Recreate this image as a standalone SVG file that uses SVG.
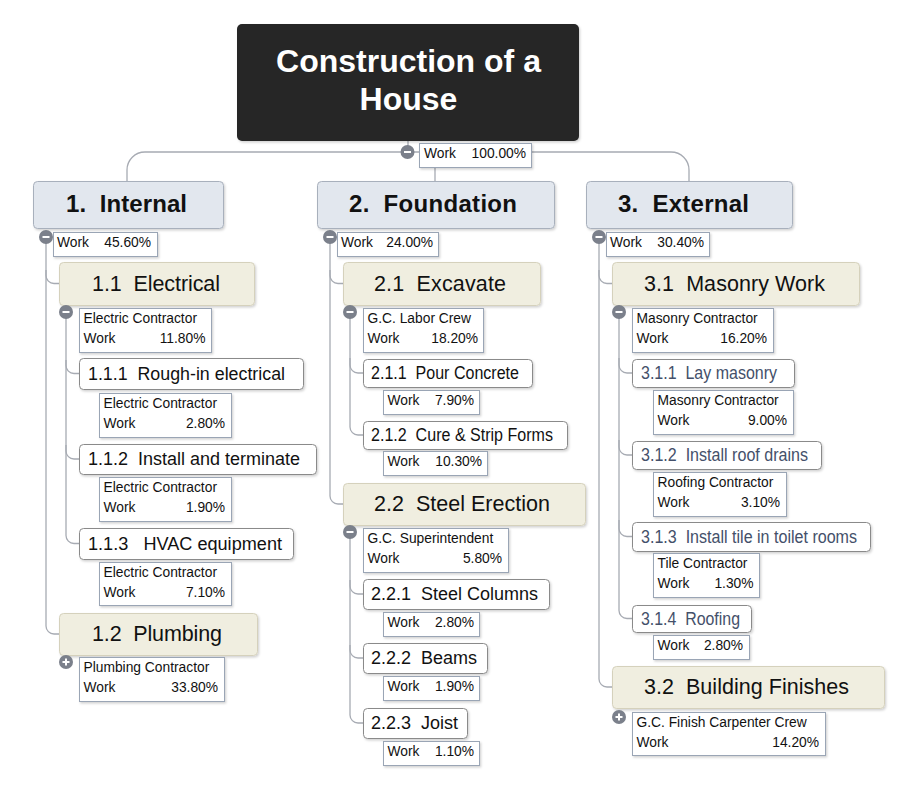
<svg xmlns="http://www.w3.org/2000/svg" width="917" height="791" viewBox="0 0 917 791">
<defs>
<filter id="sh" x="-10%" y="-20%" width="130%" height="160%"><feDropShadow dx="1.2" dy="1.5" stdDeviation="1.3" flood-color="#000" flood-opacity="0.18"/></filter>
<style>
text{font-family:"Liberation Sans",Arial,sans-serif;fill:#111}
.root rect{fill:#262626;filter:url(#sh)}
.root text{font-size:32px;font-weight:bold;fill:#fff;text-anchor:middle}
.l1 rect{fill:#e2e7ee;stroke:#a8b0bc;stroke-width:1;filter:url(#sh)}
.l1 text{font-size:24px;font-weight:bold}
.l2 rect{fill:#f0eee0;stroke:#d5d1bc;stroke-width:1;filter:url(#sh)}
.l2 text{font-size:21.5px}
.l3 rect{fill:#fff;stroke:#8a8a8a;stroke-width:1;filter:url(#sh)}
.l3 text{font-size:17.5px}
.c3 text{fill:#44506a}
.info rect{fill:#fff;stroke:#9aa5b5;stroke-width:1;filter:url(#sh)}
.info text{font-size:13.8px}
.info .v{text-anchor:end}
.conn path{fill:none;stroke:#a7abb3;stroke-width:1.3}
.tg circle{fill:#7b808b}
.tg path{stroke:#fff;stroke-width:2;fill:none}
</style>
</defs>
<rect width="917" height="791" fill="#fff"/>

<g id="connectors" class="conn">
<path d="M408,141 V152"/>
<path d="M127,181 V170 A18,18 0 0 1 145,152 H671 A18,18 0 0 1 689,170 V181"/>
<path d="M435,152 V181"/>
<path d="M46,237 V626 A8,8 0 0 0 54,634 H59"/>
<path d="M46,270 V275.5 A8,8 0 0 0 54,283.5 H59"/>
<path d="M66,312 V535.5 A8,8 0 0 0 74,543.5 H79"/>
<path d="M66,360 V365.5 A8,8 0 0 0 74,373.5 H79"/>
<path d="M66,445 V451 A8,8 0 0 0 74,459 H79"/>
<path d="M330,237 V496 A8,8 0 0 0 338,504 H343"/>
<path d="M330,270 V275.5 A8,8 0 0 0 338,283.5 H343"/>
<path d="M350,312 V427 A8,8 0 0 0 358,435 H363"/>
<path d="M350,358 V365 A8,8 0 0 0 358,373 H363"/>
<path d="M350,532 V715 A8,8 0 0 0 358,723 H363"/>
<path d="M350,580 V586 A8,8 0 0 0 358,594 H363"/>
<path d="M350,645 V650 A8,8 0 0 0 358,658 H363"/>
<path d="M599,237 V679 A8,8 0 0 0 607,687 H612"/>
<path d="M599,270 V275.5 A8,8 0 0 0 607,283.5 H612"/>
<path d="M619,312 V610.5 A8,8 0 0 0 627,618.5 H632"/>
<path d="M619,358 V365 A8,8 0 0 0 627,373 H632"/>
<path d="M619,440 V447 A8,8 0 0 0 627,455 H632"/>
<path d="M619,520 V528.5 A8,8 0 0 0 627,536.5 H632"/>
</g>

<g id="root" class="root">
<rect x="237" y="24" width="342" height="117" rx="5"/>
<text x="408.5" y="71.5">Construction of a</text>
<text x="408.5" y="109.5">House</text>
</g>
<g id="root-work" class="info">
<rect x="419.5" y="143.5" width="112" height="24"/>
<text x="424" y="158">Work</text><text class="v" x="526" y="158">100.00%</text>
</g>
<g id="root-toggle" class="tg"><circle cx="407.5" cy="152" r="7"/><path d="M404,152 H411"/></g>

<g id="n1" class="l1"><rect x="33.5" y="181.5" width="190" height="47" rx="4"/><text x="66" y="212" textLength="121">1.&#160; Internal</text></g>
<g id="n1-work" class="info"><rect x="53.5" y="232.5" width="104" height="24"/><text x="57" y="246.5">Work</text><text class="v" x="151" y="246.5">45.60%</text></g>
<g id="n1-toggle" class="tg"><circle cx="46" cy="237" r="7"/><path d="M42.5,237 H49.5"/></g>

<g id="n2" class="l1"><rect x="317.5" y="181.5" width="237" height="47" rx="4"/><text x="349" y="212" textLength="168">2.&#160; Foundation</text></g>
<g id="n2-work" class="info"><rect x="337.5" y="232.5" width="101" height="24"/><text x="341" y="246.5">Work</text><text class="v" x="433" y="246.5">24.00%</text></g>
<g id="n2-toggle" class="tg"><circle cx="330" cy="237" r="7"/><path d="M326.5,237 H333.5"/></g>

<g id="n3" class="l1"><rect x="586.5" y="181.5" width="206" height="47" rx="4"/><text x="618" y="212" textLength="131">3.&#160; External</text></g>
<g id="n3-work" class="info"><rect x="606.5" y="232.5" width="103" height="24"/><text x="610" y="246.5">Work</text><text class="v" x="704" y="246.5">30.40%</text></g>
<g id="n3-toggle" class="tg"><circle cx="599" cy="237" r="7"/><path d="M595.5,237 H602.5"/></g>

<g id="n11" class="l2"><rect x="59.5" y="262.5" width="195" height="43" rx="4"/><text x="92" y="290.5" textLength="128">1.1&#160; Electrical</text></g>
<g id="n11-info" class="info"><rect x="79.5" y="308.5" width="132" height="44"/><text x="83.5" y="323">Electric Contractor</text><text x="83.5" y="342.5">Work</text><text class="v" x="205.5" y="342.5">11.80%</text></g>
<g id="n11-toggle" class="tg"><circle cx="66" cy="312" r="7"/><path d="M62.5,312 H69.5"/></g>

<g id="n111" class="l3"><rect x="79.5" y="358.5" width="224" height="31" rx="4"/><text x="88" y="380" textLength="197" lengthAdjust="spacingAndGlyphs">1.1.1&#160; Rough-in electrical</text></g>
<g id="n111-info" class="info"><rect x="99.5" y="393.5" width="132" height="44"/><text x="103.5" y="408">Electric Contractor</text><text x="103.5" y="427.5">Work</text><text class="v" x="225" y="427.5">2.80%</text></g>

<g id="n112" class="l3"><rect x="79.5" y="444.5" width="237" height="30" rx="4"/><text x="88" y="465" textLength="212" lengthAdjust="spacingAndGlyphs">1.1.2&#160; Install and terminate</text></g>
<g id="n112-info" class="info"><rect x="99.5" y="477.5" width="132" height="44"/><text x="103.5" y="492">Electric Contractor</text><text x="103.5" y="511.5">Work</text><text class="v" x="225" y="511.5">1.90%</text></g>

<g id="n113" class="l3"><rect x="79.5" y="528.5" width="214" height="31" rx="4"/><text x="88" y="549.5" textLength="194" lengthAdjust="spacingAndGlyphs">1.1.3&#160;&#160; HVAC equipment</text></g>
<g id="n113-info" class="info"><rect x="99.5" y="562.5" width="132" height="43"/><text x="103.5" y="577">Electric Contractor</text><text x="103.5" y="596.5">Work</text><text class="v" x="225" y="596.5">7.10%</text></g>

<g id="n12" class="l2"><rect x="59.5" y="613.5" width="198" height="42" rx="4"/><text x="92" y="640.5" textLength="130">1.2&#160; Plumbing</text></g>
<g id="n12-info" class="info"><rect x="79.5" y="657.5" width="145" height="44"/><text x="83.5" y="672">Plumbing Contractor</text><text x="83.5" y="691.5">Work</text><text class="v" x="218" y="691.5">33.80%</text></g>
<g id="n12-toggle" class="tg"><circle cx="66" cy="662" r="7"/><path d="M62.5,662 H69.5 M66,658.5 V665.5"/></g>

<g id="n21" class="l2"><rect x="343.5" y="262.5" width="197" height="43" rx="4"/><text x="374" y="290.5" textLength="132">2.1&#160; Excavate</text></g>
<g id="n21-info" class="info"><rect x="363.5" y="308.5" width="120" height="44"/><text x="367.5" y="323">G.C. Labor Crew</text><text x="367.5" y="342.5">Work</text><text class="v" x="478" y="342.5">18.20%</text></g>
<g id="n21-toggle" class="tg"><circle cx="350" cy="312" r="7"/><path d="M346.5,312 H353.5"/></g>

<g id="n211" class="l3"><rect x="363.5" y="359.5" width="169" height="28" rx="4"/><text x="371" y="379" textLength="148" lengthAdjust="spacingAndGlyphs">2.1.1&#160; Pour Concrete</text></g>
<g id="n211-info" class="info"><rect x="383.5" y="390.5" width="96" height="24"/><text x="387.5" y="405">Work</text><text class="v" x="474" y="405">7.90%</text></g>

<g id="n212" class="l3"><rect x="363.5" y="421.5" width="204" height="28" rx="4"/><text x="371" y="441" textLength="182" lengthAdjust="spacingAndGlyphs">2.1.2&#160; Cure &amp; Strip Forms</text></g>
<g id="n212-info" class="info"><rect x="383.5" y="451.5" width="104" height="24"/><text x="387.5" y="466">Work</text><text class="v" x="482" y="466">10.30%</text></g>

<g id="n22" class="l2"><rect x="343.5" y="483.5" width="242" height="42" rx="4"/><text x="374" y="510.5" textLength="176">2.2&#160; Steel Erection</text></g>
<g id="n22-info" class="info"><rect x="363.5" y="528.5" width="145" height="44"/><text x="367.5" y="543">G.C. Superintendent</text><text x="367.5" y="562.5">Work</text><text class="v" x="502" y="562.5">5.80%</text></g>
<g id="n22-toggle" class="tg"><circle cx="350" cy="532" r="7"/><path d="M346.5,532 H353.5"/></g>

<g id="n221" class="l3"><rect x="363.5" y="579.5" width="186" height="30" rx="4"/><text x="371" y="599.5" textLength="167" lengthAdjust="spacingAndGlyphs">2.2.1&#160; Steel Columns</text></g>
<g id="n221-info" class="info"><rect x="383.5" y="612.5" width="96" height="24"/><text x="387.5" y="627">Work</text><text class="v" x="474" y="627">2.80%</text></g>

<g id="n222" class="l3"><rect x="363.5" y="643.5" width="124" height="30" rx="4"/><text x="371" y="663.5" textLength="106" lengthAdjust="spacingAndGlyphs">2.2.2&#160; Beams</text></g>
<g id="n222-info" class="info"><rect x="383.5" y="676.5" width="96" height="24"/><text x="387.5" y="691">Work</text><text class="v" x="474" y="691">1.90%</text></g>

<g id="n223" class="l3"><rect x="363.5" y="708.5" width="104" height="30" rx="4"/><text x="371" y="728.5" textLength="87" lengthAdjust="spacingAndGlyphs">2.2.3&#160; Joist</text></g>
<g id="n223-info" class="info"><rect x="383.5" y="741.5" width="96" height="24"/><text x="387.5" y="756">Work</text><text class="v" x="474" y="756">1.10%</text></g>

<g id="n31" class="l2"><rect x="612.5" y="262.5" width="247" height="43" rx="4"/><text x="644" y="290.5" textLength="181">3.1&#160; Masonry Work</text></g>
<g id="n31-info" class="info"><rect x="632.5" y="308.5" width="141" height="44"/><text x="636.5" y="323">Masonry Contractor</text><text x="636.5" y="342.5">Work</text><text class="v" x="767" y="342.5">16.20%</text></g>
<g id="n31-toggle" class="tg"><circle cx="619" cy="312" r="7"/><path d="M615.5,312 H622.5"/></g>

<g id="n311" class="l3 c3"><rect x="632.5" y="359.5" width="162" height="28" rx="4"/><text x="641" y="379" textLength="136" lengthAdjust="spacingAndGlyphs">3.1.1&#160; Lay masonry</text></g>
<g id="n311-info" class="info"><rect x="653.5" y="390.5" width="140" height="44"/><text x="657.5" y="405">Masonry Contractor</text><text x="657.5" y="424.5">Work</text><text class="v" x="787" y="424.5">9.00%</text></g>

<g id="n312" class="l3 c3"><rect x="632.5" y="441.5" width="189" height="28" rx="4"/><text x="641" y="461" textLength="167" lengthAdjust="spacingAndGlyphs">3.1.2&#160; Install roof drains</text></g>
<g id="n312-info" class="info"><rect x="653.5" y="472.5" width="133" height="44"/><text x="657.5" y="487">Roofing Contractor</text><text x="657.5" y="506.5">Work</text><text class="v" x="780" y="506.5">3.10%</text></g>

<g id="n313" class="l3 c3"><rect x="632.5" y="522.5" width="238" height="29" rx="4"/><text x="641" y="542.5" textLength="216" lengthAdjust="spacingAndGlyphs">3.1.3&#160; Install tile in toilet rooms</text></g>
<g id="n313-info" class="info"><rect x="653.5" y="553.5" width="106" height="44"/><text x="657.5" y="568">Tile Contractor</text><text x="657.5" y="587.5">Work</text><text class="v" x="753.5" y="587.5">1.30%</text></g>

<g id="n314" class="l3 c3"><rect x="632.5" y="605.5" width="119" height="27" rx="4"/><text x="641" y="624.5" textLength="99" lengthAdjust="spacingAndGlyphs">3.1.4&#160; Roofing</text></g>
<g id="n314-info" class="info"><rect x="653.5" y="635.5" width="96" height="24"/><text x="657.5" y="650">Work</text><text class="v" x="743" y="650">2.80%</text></g>

<g id="n32" class="l2"><rect x="612.5" y="666.5" width="272" height="42" rx="4"/><text x="644" y="693.5" textLength="205">3.2&#160; Building Finishes</text></g>
<g id="n32-info" class="info"><rect x="632.5" y="712.5" width="193" height="43"/><text x="636.5" y="727">G.C. Finish Carpenter Crew</text><text x="636.5" y="746.5">Work</text><text class="v" x="819" y="746.5">14.20%</text></g>
<g id="n32-toggle" class="tg"><circle cx="619" cy="717" r="7"/><path d="M615.5,717 H622.5 M619,713.5 V720.5"/></g>
</svg>
